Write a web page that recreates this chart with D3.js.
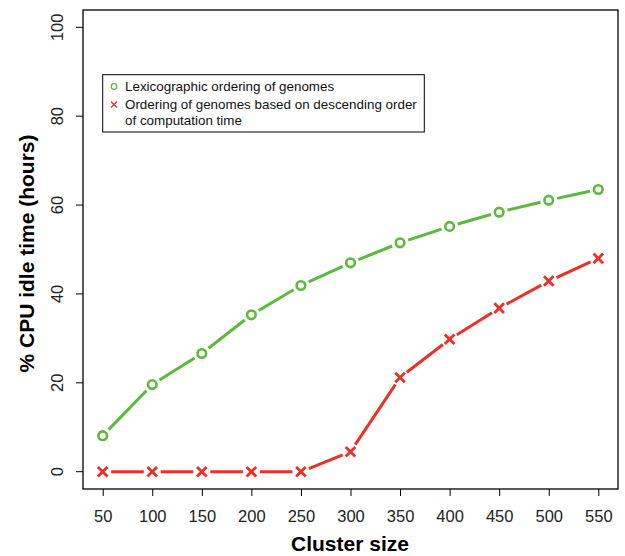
<!DOCTYPE html>
<html>
<head>
<meta charset="utf-8">
<script src="https://cdn.jsdelivr.net/npm/d3@7"></script>
<style>
  body { margin: 0; background: #fff; }
  svg { display: block; font-family: "Liberation Sans", Arial, sans-serif; }
</style>
</head>
<body>
<svg width="625" height="556"></svg>
<script>
// cluster sizes and % idle time for both orderings
const clusterSizes = [50, 100, 150, 200, 250, 300, 350, 400, 450, 500, 550];
const lexicographic = [8.1, 19.6, 26.6, 35.3, 41.9, 47.0, 51.5, 55.2, 58.4, 61.1, 63.5];
const descending = [0, 0, 0, 0, 0, 4.5, 21.2, 29.8, 36.8, 42.9, 48.0];
const yTicks = [0, 20, 40, 60, 80, 100];
const legendLabels = [
  ["Lexicographic ordering of genomes"],
  ["Ordering of genomes based on descending order", "of computation time"]
];

const green = "#5cb83e";
const red = "#ee2f27";

const svg = d3.select("svg");
const box = {left: 83, top: 10, right: 618, bottom: 489};

const x = d3.scaleLinear().domain([50, 550]).range([102.7, 598.3]);
const y = d3.scaleLinear().domain([0, 100]).range([471.7, 27.3]);

// y axis
const yAxis = svg.append("g")
    .attr("transform", `translate(${box.left},0)`)
    .call(d3.axisLeft(y).tickValues(yTicks).tickSize(7).tickPadding(0).tickFormat(d3.format("d")));
yAxis.select(".domain").remove();
yAxis.selectAll(".tick").attr("transform", null);
yAxis.selectAll(".tick line")
    .attr("stroke", "#000").attr("stroke-width", 1)
    .attr("y1", d => y(d)).attr("y2", d => y(d)).attr("x2", -7);
yAxis.selectAll("text")
    .attr("font-size", 16.5)
    .attr("fill", "#222")
    .attr("text-anchor", "middle")
    .attr("dy", 0)
    .attr("x", 0).attr("y", 0)
    .attr("transform", d => `translate(-20,${y(d)}) rotate(-90)`);

// x axis
const xAxis = svg.append("g")
    .attr("transform", `translate(0,${box.bottom})`)
    .call(d3.axisBottom(x).tickValues(clusterSizes).tickSize(7).tickPadding(14).tickFormat(d3.format("d")));
xAxis.select(".domain").remove();
xAxis.selectAll("line").attr("stroke", "#000").attr("stroke-width", 1);
xAxis.selectAll("text").attr("font-size", 16.5).attr("fill", "#222");

// frame
svg.append("rect")
    .attr("x", box.left).attr("y", box.top)
    .attr("width", box.right - box.left).attr("height", box.bottom - box.top)
    .attr("fill", "none").attr("stroke", "#000").attr("stroke-width", 1.3);

// axis titles
svg.append("text")
    .attr("x", 350).attr("y", 551)
    .attr("text-anchor", "middle")
    .attr("font-size", 21).attr("font-weight", "bold")
    .text("Cluster size");
svg.append("text")
    .attr("transform", `translate(34,${(box.top + box.bottom) / 2 + 4}) rotate(-90)`)
    .attr("text-anchor", "middle")
    .attr("font-size", 21).attr("font-weight", "bold")
    .text("% CPU idle time (hours)");

// line with gaps around points (like type = "b")
const gap = 8.5;
function drawSeries(values, color, shape) {
  const pts = clusterSizes.map((c, i) => [x(c), y(values[i])]);
  const g = svg.append("g");
  const segs = d3.pairs(pts).map(([a, b]) => {
    const dx = b[0] - a[0], dy = b[1] - a[1];
    const len = Math.hypot(dx, dy);
    const ux = dx / len, uy = dy / len;
    return [[a[0] + ux * gap, a[1] + uy * gap], [b[0] - ux * gap, b[1] - uy * gap]];
  });
  g.selectAll("line.seg")
    .data(segs)
    .join("line")
      .attr("x1", d => d[0][0]).attr("y1", d => d[0][1])
      .attr("x2", d => d[1][0]).attr("y2", d => d[1][1])
      .attr("stroke", color).attr("stroke-width", 3);
  if (shape === "circle") {
    g.selectAll("circle")
      .data(pts)
      .join("circle")
        .attr("cx", d => d[0]).attr("cy", d => d[1]).attr("r", 4.3)
        .attr("fill", "none").attr("stroke", color).attr("stroke-width", 2.6);
  } else {
    const s = 4.8;
    g.selectAll("path")
      .data(pts)
      .join("path")
        .attr("d", d => `M${d[0] - s},${d[1] - s}L${d[0] + s},${d[1] + s}M${d[0] - s},${d[1] + s}L${d[0] + s},${d[1] - s}`)
        .attr("stroke", color).attr("stroke-width", 2.8).attr("fill", "none");
  }
}
drawSeries(lexicographic, green, "circle");
drawSeries(descending, red, "cross");

// legend
const legend = svg.append("g");
legend.append("rect")
    .attr("x", 102.7).attr("y", 74.7).attr("width", 321.6).attr("height", 57.3)
    .attr("fill", "#fff").attr("stroke", "#000").attr("stroke-width", 1);
legend.append("circle")
    .attr("cx", 114).attr("cy", 86.5).attr("r", 2.8)
    .attr("fill", "none").attr("stroke", green).attr("stroke-width", 1.2);
legend.append("path")
    .attr("d", "M111,101.5L117,107.5M111,107.5L117,101.5")
    .attr("stroke", red).attr("stroke-width", 1.3);
const lineTops = [91, 109];
legendLabels.forEach((lines, i) => {
  lines.forEach((t, j) => {
    legend.append("text")
      .attr("x", 125).attr("y", lineTops[i] + j * 15.5)
      .attr("font-size", 13.4).attr("fill", "#111")
      .text(t);
  });
});
</script>
</body>
</html>
